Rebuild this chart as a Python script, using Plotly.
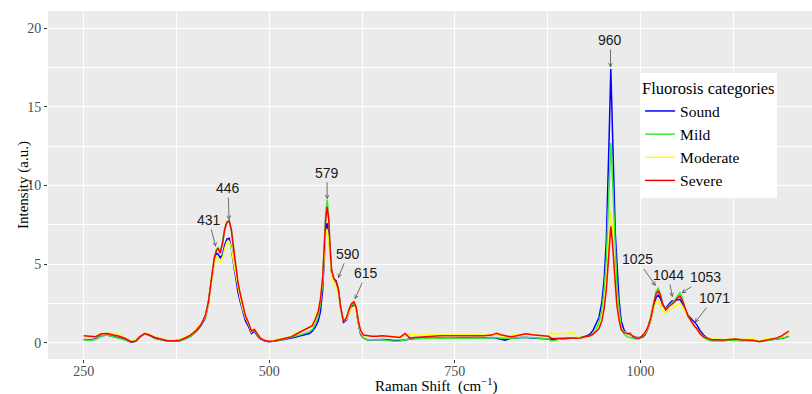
import plotly.graph_objects as go

# Raman shift (cm^-1) sample positions
raman_shift = [
    250, 258, 266, 274, 282, 290, 298, 306, 314, 320, 326, 332, 338, 346, 354, 362, 370, 378, 386, 394, 402, 408, 414,
    418, 422, 426, 429, 431, 434, 437, 440, 443, 446, 449, 452, 455, 458, 461, 464, 468, 472, 476, 480, 484, 488, 494, 500,
    506, 512, 518, 524, 530, 536, 542, 548, 554, 558, 562, 566, 569, 572, 574, 576, 578, 580, 582, 584, 587, 590, 593, 596,
    600, 604, 608, 611, 614, 617, 620, 623, 627, 632, 638,
    645, 652, 660, 668, 676, 683, 689, 696, 704, 712, 720, 730, 740, 750, 760, 770, 780, 790, 800, 806, 812, 818, 824, 830,
    838, 846, 854, 862, 870, 876, 880, 885, 892, 900, 909, 915, 920, 926, 932, 936, 940,
    944, 948, 951, 954, 956, 958, 960, 962, 964, 966, 968, 971, 974, 978, 982, 986, 990, 994, 998,
    1002, 1006, 1010, 1014, 1018, 1021, 1024, 1027, 1030, 1034, 1038, 1042, 1046, 1050, 1053, 1056, 1060, 1064, 1068,
    1072, 1076, 1080, 1085, 1090, 1096, 1104, 1112, 1120, 1128, 1136, 1144, 1152, 1160, 1168, 1176, 1184, 1190, 1195, 1200,
]

sound = [
    0.22, 0.18, 0.25, 0.45, 0.5, 0.42, 0.32, 0.2, 0.05, 0.1, 0.4, 0.58, 0.5, 0.3, 0.2, 0.12, 0.1, 0.12, 0.25, 0.42, 0.75, 1.1, 1.6,
    2.5, 3.9, 5.2, 5.7, 5.65, 5.4, 5.6, 6.2, 6.6, 6.65, 6.0, 5.0, 4.0, 3.2, 2.6, 2.0, 1.4, 1.05, 0.6, 0.75, 0.45, 0.25, 0.12, 0.08,
    0.1, 0.15, 0.2, 0.25, 0.3, 0.38, 0.45, 0.55, 0.6, 0.75, 1.0, 1.4, 2.0, 3.4, 5.5, 7.2, 7.6, 7.0, 5.7, 4.5, 4.05, 3.95, 3.45, 2.3,
    1.3, 1.45, 2.0, 2.3, 2.45, 2.15, 1.25, 0.55, 0.3, 0.2, 0.2,
    0.22, 0.22, 0.2, 0.15, 0.15, 0.2, 0.25, 0.28, 0.3, 0.32, 0.3, 0.32, 0.3, 0.32, 0.32, 0.35, 0.35, 0.32, 0.35, 0.3, 0.22, 0.18, 0.28, 0.32,
    0.35, 0.35, 0.32, 0.3, 0.28, 0.25, 0.2, 0.22, 0.25, 0.28, 0.3, 0.32, 0.35, 0.42, 0.55, 0.8, 1.2,
    1.6, 2.6, 4.0, 6.5, 9.5, 13.5, 17.4, 14.5, 10.5, 7.0, 5.0, 2.8, 1.4, 0.8, 0.6, 0.5, 0.45, 0.35, 0.35,
    0.35, 0.5, 0.9, 1.5, 2.4, 2.9, 3.05, 2.8, 2.4, 2.2, 2.45, 2.65, 2.7, 2.75, 2.77, 2.55, 2.1, 1.75, 1.55,
    1.38, 1.15, 0.8, 0.5, 0.3, 0.2, 0.18, 0.15, 0.18, 0.2, 0.15, 0.18, 0.2, 0.12, 0.15, 0.2, 0.25, 0.3, 0.35, 0.45,
]

mild = [
    0.2, 0.15, 0.22, 0.45, 0.5, 0.38, 0.28, 0.18, 0.08, 0.15, 0.42, 0.6, 0.52, 0.32, 0.22, 0.12, 0.1, 0.12, 0.25, 0.42, 0.78, 1.15, 1.7,
    2.6, 4.0, 5.4, 5.95, 6.05, 5.8, 6.4, 7.3, 7.7, 7.8, 7.1, 5.9, 4.7, 3.7, 3.0, 2.3, 1.6, 1.25, 0.75, 0.82, 0.5, 0.3, 0.15, 0.1,
    0.1, 0.15, 0.22, 0.3, 0.35, 0.42, 0.52, 0.62, 0.72, 0.85, 1.2, 1.7, 2.5, 4.0, 6.2, 8.3, 9.1, 8.0, 5.9, 4.5, 4.0, 3.85, 3.35, 2.25,
    1.35, 1.55, 2.1, 2.4, 2.5, 2.2, 1.3, 0.65, 0.3, 0.2, 0.2,
    0.2, 0.2, 0.15, 0.1, 0.12, 0.2, 0.25, 0.28, 0.3, 0.3, 0.32, 0.3, 0.28, 0.3, 0.3, 0.32, 0.32, 0.3, 0.32, 0.35, 0.3, 0.28, 0.3, 0.32,
    0.35, 0.35, 0.35, 0.3, 0.28, 0.25, 0.12, 0.15, 0.25, 0.28, 0.3, 0.3, 0.32, 0.38, 0.45, 0.6, 0.85,
    1.3, 2.1, 3.3, 5.3, 7.5, 10.5, 12.7, 10.8, 8.0, 5.5, 3.8, 2.2, 1.0, 0.55, 0.4, 0.35, 0.3, 0.25, 0.3,
    0.4, 0.6, 1.0, 1.7, 2.7, 3.3, 3.47, 3.1, 2.5, 2.15, 2.35, 2.5, 2.7, 3.0, 3.19, 2.9, 2.2, 1.7, 1.4,
    1.1, 0.9, 0.6, 0.35, 0.2, 0.12, 0.12, 0.12, 0.18, 0.15, 0.12, 0.15, 0.15, 0.12, 0.12, 0.2, 0.25, 0.3, 0.35, 0.4,
]

moderate = [
    0.35, 0.35, 0.45, 0.6, 0.62, 0.6, 0.5, 0.3, 0.1, 0.15, 0.42, 0.6, 0.55, 0.38, 0.28, 0.18, 0.2, 0.22, 0.35, 0.5, 0.85, 1.2, 1.7,
    2.5, 3.8, 5.1, 5.5, 5.4, 5.1, 5.4, 6.0, 6.4, 6.45, 6.0, 5.1, 4.3, 3.5, 2.8, 2.2, 1.6, 1.2, 0.7, 0.85, 0.55, 0.3, 0.15, 0.12,
    0.15, 0.25, 0.32, 0.35, 0.45, 0.6, 0.75, 0.9, 1.0, 1.2, 1.55, 2.1, 2.8, 4.0, 5.6, 6.9, 7.2, 6.6, 5.4, 4.3, 3.8, 3.6, 3.2, 2.2,
    1.4, 1.5, 1.95, 2.2, 2.3, 2.1, 1.3, 0.7, 0.45, 0.45, 0.42,
    0.45, 0.45, 0.42, 0.42, 0.4, 0.5, 0.55, 0.52, 0.5, 0.5, 0.55, 0.52, 0.5, 0.55, 0.55, 0.55, 0.52, 0.5, 0.55, 0.55, 0.45, 0.42, 0.45, 0.5,
    0.55, 0.55, 0.52, 0.5, 0.45, 0.42, 0.65, 0.55, 0.6, 0.6, 0.68, 0.35, 0.3, 0.35, 0.45, 0.55, 0.75,
    1.0, 1.6, 2.5, 3.9, 5.5, 7.2, 8.35, 7.2, 5.3, 3.8, 2.7, 1.6, 0.9, 0.7, 0.65, 0.55, 0.4, 0.3, 0.3,
    0.45, 0.6, 0.95, 1.5, 2.2, 2.6, 2.73, 2.4, 2.0, 1.85, 2.05, 2.2, 2.3, 2.45, 2.52, 2.35, 2.0, 1.6, 1.35,
    1.1, 0.9, 0.6, 0.4, 0.3, 0.25, 0.25, 0.2, 0.25, 0.22, 0.2, 0.25, 0.25, 0.18, 0.22, 0.3, 0.35, 0.4, 0.45, 0.5,
]

severe = [
    0.45, 0.42, 0.4, 0.58, 0.6, 0.5, 0.42, 0.28, 0.08, 0.12, 0.4, 0.6, 0.52, 0.35, 0.25, 0.15, 0.12, 0.15, 0.3, 0.5, 0.82, 1.15, 1.75,
    2.6, 4.0, 5.4, 5.9, 6.0, 5.7, 6.3, 7.2, 7.65, 7.75, 7.2, 6.0, 4.8, 3.8, 3.1, 2.4, 1.7, 1.3, 0.75, 0.85, 0.55, 0.3, 0.15, 0.1,
    0.12, 0.2, 0.28, 0.35, 0.4, 0.55, 0.7, 0.85, 0.95, 1.1, 1.5, 2.0, 2.8, 4.2, 6.0, 7.8, 8.65, 7.9, 6.0, 4.6, 4.1, 3.9, 3.4, 2.3,
    1.35, 1.6, 2.2, 2.5, 2.62, 2.3, 1.4, 0.8, 0.5, 0.45, 0.42,
    0.42, 0.45, 0.42, 0.4, 0.35, 0.6, 0.32, 0.35, 0.38, 0.42, 0.45, 0.45, 0.45, 0.45, 0.45, 0.48, 0.48, 0.45, 0.5, 0.62, 0.52, 0.45, 0.4, 0.42,
    0.5, 0.58, 0.52, 0.5, 0.45, 0.42, 0.3, 0.28, 0.3, 0.3, 0.32, 0.3, 0.32, 0.4, 0.45, 0.55, 0.75,
    0.9, 1.4, 2.2, 3.4, 4.8, 6.3, 7.4, 6.5, 4.9, 3.5, 2.5, 1.5, 0.85, 0.65, 0.6, 0.62, 0.4, 0.3, 0.28,
    0.45, 0.65, 1.0, 1.6, 2.5, 3.1, 3.32, 3.0, 2.45, 2.1, 2.3, 2.45, 2.6, 2.85, 2.98, 2.75, 2.15, 1.7, 1.4,
    1.1, 0.9, 0.6, 0.38, 0.28, 0.2, 0.2, 0.18, 0.22, 0.25, 0.2, 0.18, 0.15, 0.08, 0.15, 0.25, 0.32, 0.45, 0.6, 0.75,
]

series_names = ["Sound", "Mild", "Moderate", "Severe"]
series_colors = ["#0000FF", "#33EE33", "#FFFF00", "#FF0000"]

# Peak annotations: label text, arrow head (peak) and label position
peak_labels = ["431", "446", "579", "590", "615", "960", "1025", "1044", "1053", "1071"]
peak_x = [428, 445.9, 577.9, 592.7, 615.2, 959.6, 1020.6, 1043.1, 1055.2, 1073.1]
peak_y = [6.11, 7.81, 9.12, 4.11, 2.77, 17.49, 3.62, 2.90, 3.16, 1.29]
label_x = [418.5, 444.5, 577.9, 606.1, 630.9, 959.6, 995.4, 1037.2, 1088.0, 1099.1]
label_y = [7.81, 9.82, 10.81, 5.65, 4.43, 19.24, 5.31, 4.32, 4.17, 2.84]

for s in (sound, mild, moderate, severe):
    assert len(s) == len(raman_shift), (len(s), len(raman_shift))

fig = go.Figure()
for name, color, vals in zip(series_names, series_colors, [sound, mild, moderate, severe]):
    fig.add_trace(go.Scatter(x=raman_shift, y=vals, mode="lines", name=name,
                             line=dict(color=color, width=1.5)))

for t, px, py, lx, ly in zip(peak_labels, peak_x, peak_y, label_x, label_y):
    fig.add_annotation(x=px, y=py, ax=lx, ay=ly, xref="x", yref="y", axref="x", ayref="y",
                       text=t, showarrow=True, arrowhead=5, arrowsize=0.9, arrowwidth=0.8,
                       arrowcolor="#4d4d4d", standoff=0, startstandoff=0,
                       font=dict(family="Liberation Sans, Arial", size=14, color="#1a1a1a"))

serif = "Liberation Serif, Times New Roman, serif"
fig.add_annotation(x=-0.0327, y=0.5, xref="paper", yref="paper", text="Intensity (a.u.)",
                   textangle=-90, showarrow=False, xanchor="center", yanchor="middle",
                   font=dict(family=serif, size=15, color="black"))
fig.add_annotation(x=0.508, y=-0.075, xref="paper", yref="paper",
                   text="Raman Shift\u00a0 (cm<sup>\u22121</sup>)",
                   showarrow=False, xanchor="center", yanchor="middle",
                   font=dict(family=serif, size=15, color="black"))

fig.update_layout(
    width=812, height=394,
    margin=dict(l=48, r=0, t=11, b=35),
    paper_bgcolor="white",
    plot_bgcolor="#EBEBEB",
    font=dict(family=serif, color="#4d4d4d"),
    showlegend=True,
    legend=dict(
        x=0.775, y=0.822, xanchor="left", yanchor="top",
        bgcolor="white", borderwidth=0,
        title=dict(text="Fluorosis categories", font=dict(family=serif, size=16.5, color="black")),
        font=dict(family=serif, size=15.5, color="black"),
        itemwidth=30,
    ),
    xaxis=dict(
        range=[202, 1231], tickvals=[250, 500, 750, 1000],
        showgrid=True, gridcolor="white", gridwidth=1.1,
        minor=dict(tickvals=[375, 625, 875, 1125], showgrid=True, gridcolor="white", gridwidth=0.5),
        ticks="outside", ticklen=3, tickcolor="#333333", tickwidth=1,
        ticklabelstandoff=-4,
        tickfont=dict(family=serif, size=14, color="#4d4d4d"),
        zeroline=False, showline=False,
    ),
    yaxis=dict(
        range=[-1.02, 21.08], tickvals=[0, 5, 10, 15, 20],
        showgrid=True, gridcolor="white", gridwidth=1.1,
        minor=dict(tickvals=[2.5, 7.5, 12.5, 17.5], showgrid=True, gridcolor="white", gridwidth=0.5),
        ticks="outside", ticklen=3, tickcolor="#333333", tickwidth=1,
        tickfont=dict(family=serif, size=14, color="#4d4d4d"),
        zeroline=False, showline=False,
    ),
)

fig.write_html("out.html")
